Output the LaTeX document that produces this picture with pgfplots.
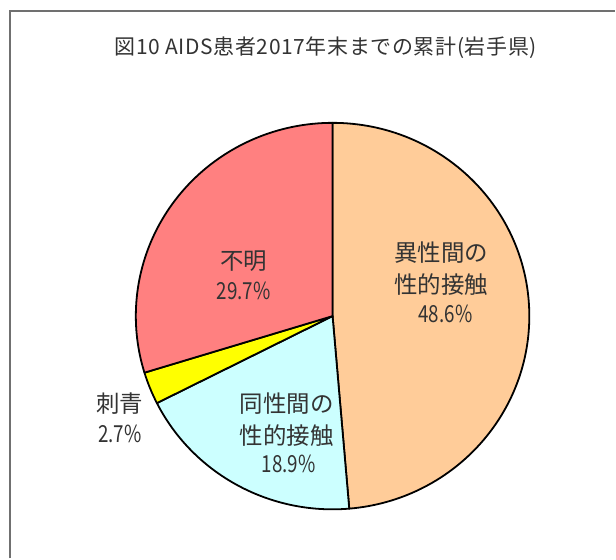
\documentclass[border=0pt]{standalone}
\usepackage{fontspec}
\setmainfont{Noto Sans CJK JP}
\usepackage{graphicx}
\usepackage{pgfplots}
\usepackage{pgfplotstable}
\pgfplotsset{compat=1.18}

\definecolor{pieOrange}{HTML}{FFCC99}
\definecolor{pieCyan}{HTML}{CCFFFF}
\definecolor{pieYellow}{HTML}{FFFF00}
\definecolor{pieRed}{HTML}{FF8080}
\definecolor{frameGray}{HTML}{707070}

% slices, clockwise from 12 o'clock
\pgfplotstableread{
name value
hetero 48.6
homo 18.9
tattoo 2.7
unknown 29.7
}\piedata

\newcommand\pct[1]{\scalebox{0.8}[1]{#1\%}}

\begin{document}
\begin{tikzpicture}
\pgfplotstablegetelem{0}{value}\of\piedata \let\va\pgfplotsretval
\pgfplotstablegetelem{1}{value}\of\piedata \let\vb\pgfplotsretval
\pgfplotstablegetelem{2}{value}\of\piedata \let\vc\pgfplotsretval
\pgfplotstablegetelem{3}{value}\of\piedata \let\vd\pgfplotsretval
\pgfmathsetmacro\tot{\va+\vb+\vc+\vd}
\pgfmathsetmacro\aA{90}
\pgfmathsetmacro\aB{\aA-360*(\va/\tot)}
\pgfmathsetmacro\aC{\aB-360*(\vb/\tot)}
\pgfmathsetmacro\aD{\aC-360*(\vc/\tot)}
\pgfmathsetmacro\aE{\aD-360*(\vd/\tot)}
\begin{axis}[
    width=616pt, height=559pt, scale only axis,
    xmin=0, xmax=616, ymin=0, ymax=559, y dir=reverse,
    hide axis, clip=false,
]
\fill[white] (axis cs:0,0) rectangle (axis cs:616,559);
\draw[frameGray, line width=1.6pt] (axis cs:10,559) -- (axis cs:10,11) -- (axis cs:616,11);

\node[font=\fontsize{21}{24}\selectfont\addfontfeature{LetterSpace=3}, text=black!80] at (axis cs:326,48)
  {図10 AIDS患者2017年末までの累計(岩手県)};

\begin{scope}[line width=1.8pt, draw=black, line join=round,
    pie/.style={x radius=197pt, y radius=193.5pt}]
\filldraw[fill=pieOrange] (axis cs:333,316.5) -- ++(\aA:197pt and 193.5pt)
  arc[start angle=\aA, end angle=\aB, pie] -- cycle;
\filldraw[fill=pieCyan] (axis cs:333,316.5) -- ++(\aB:197pt and 193.5pt)
  arc[start angle=\aB, end angle=\aC, pie] -- cycle;
\filldraw[fill=pieYellow] (axis cs:333,316.5) -- ++(\aC:197pt and 193.5pt)
  arc[start angle=\aC, end angle=\aD, pie] -- cycle;
\filldraw[fill=pieRed] (axis cs:333,316.5) -- ++(\aD:197pt and 193.5pt)
  arc[start angle=\aD, end angle=\aE, pie] -- cycle;
\end{scope}

\begin{scope}[every node/.style={font=\fontsize{23.5}{26}\selectfont, text=black!80, inner sep=0pt}]
\node at (axis cs:442,253) {異性間の};
\node at (axis cs:442,285) {性的接触};
\node at (axis cs:446,314) {\pct{\va}};
\node at (axis cs:287,404) {同性間の};
\node at (axis cs:287,436) {性的接触};
\node at (axis cs:289,464) {\pct{\vb}};
\node at (axis cs:120,404) {刺青};
\node at (axis cs:120,434) {\pct{\vc}};
\node at (axis cs:244,262) {不明};
\node at (axis cs:244,291) {\pct{\vd}};
\end{scope}
\end{axis}
\end{tikzpicture}
\end{document}
